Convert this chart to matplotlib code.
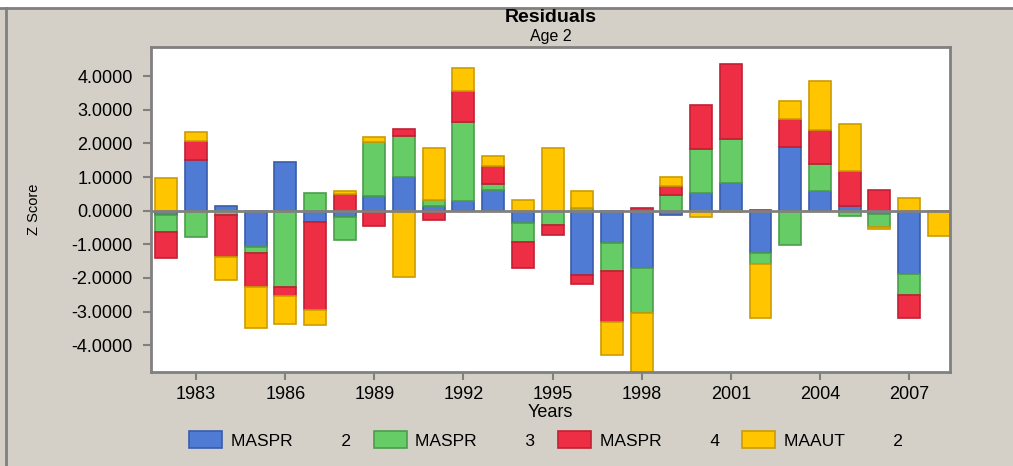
import numpy as np
import matplotlib.pyplot as plt
from matplotlib.lines import Line2D
from matplotlib.patches import Rectangle

plt.rcParams['font.family'] = ['Liberation Sans', 'DejaVu Sans']

# years and residuals per series
years = np.arange(1982, 2009)
maspr2 = [-0.12, 1.51, 0.14, -1.07, 1.45, -0.33, -0.18, 0.43, 0.99, 0.13, 0.29, 0.63, -0.36, 0.00,
          -1.91, -0.97, -1.72, -0.12, 0.53, 0.83, -1.27, 1.90, 0.59, 0.13, -0.10, -1.88, 0.00]
maspr3 = [-0.52, -0.78, -0.12, -0.20, -2.28, 0.54, -0.69, 1.62, 1.22, 0.20, 2.36, 0.15, -0.58, -0.43,
          0.09, -0.83, -1.31, 0.46, 1.30, 1.30, -0.31, -1.01, 0.81, -0.17, -0.38, -0.64, 0.00]
maspr4 = [-0.78, 0.56, -1.25, -1.01, -0.27, -2.63, 0.50, -0.45, 0.22, -0.28, 0.90, 0.56, -0.76, -0.28,
          -0.28, -1.52, 0.08, 0.27, 1.30, 2.24, 0.03, 0.84, 1.01, 1.04, 0.62, -0.66, 0.00]
maaut2 = [0.97, 0.26, -0.68, -1.21, -0.82, -0.45, 0.08, 0.15, -1.98, 1.53, 0.69, 0.29, 0.31, 1.86,
          0.49, -0.98, -1.90, 0.26, -0.20, -0.04, -1.62, 0.52, 1.46, 1.42, -0.07, 0.38, -0.74]

series = [maspr2, maspr3, maspr4, maaut2]
labels = ['MASPR          2', 'MASPR          3', 'MASPR          4', 'MAAUT          2']
colors = ['#4f7bd4', '#66cc66', '#ee2e44', '#ffc600']
edges = ['#3a5caa', '#4b9e4b', '#c21f33', '#cc9c00']

bg = '#d4d0c8'
fig = plt.figure(figsize=(10.13, 4.66), dpi=100, facecolor=bg)
# white strip at top and frame lines
fig.patches.append(Rectangle((0, 1 - 8/466), 1, 8/466, transform=fig.transFigure,
                             facecolor='white', edgecolor='none', zorder=0))
fig.lines.append(Line2D([0, 1], [1 - 8/466, 1 - 8/466], transform=fig.transFigure, color='#808080', lw=2))
fig.lines.append(Line2D([6/1013, 6/1013], [0, 1 - 8/466], transform=fig.transFigure, color='#808080', lw=2))

ax = fig.add_axes([151/1013, 94/466, 799/1013, 325/466])
ax.set_facecolor('white')

pos = np.zeros(len(years))
neg = np.zeros(len(years))
for vals, c, e, lab in zip(series, colors, edges, labels):
    v = np.array(vals)
    bottom = np.where(v >= 0, pos, neg)
    ax.bar(years, v, bottom=bottom, width=0.74, color=c, edgecolor=e, linewidth=1.2, label=lab, zorder=2)
    pos = pos + np.where(v > 0, v, 0)
    neg = neg + np.where(v < 0, v, 0)

ax.axhline(0, color='#808080', lw=2, zorder=3)
ax.set_xlim(1981.48, 2008.38)
ax.set_ylim(-4.8, 4.87)
ax.set_xticks(np.arange(1983, 2008, 3))
ax.set_yticks(np.arange(-4, 5, 1))
ax.set_yticklabels(['%.4f' % t for t in np.arange(-4, 5, 1)])
for s in ax.spines.values():
    s.set_color('#808080')
    s.set_linewidth(2)
ax.tick_params(colors='#808080', labelcolor='black', length=6, width=1.5, labelsize=13)
ax.tick_params(axis='y', pad=7)
ax.tick_params(axis='x', pad=4)

ax.set_ylabel('Z Score', fontsize=10.5, labelpad=22)
ax.set_xlabel('Years', fontsize=13, labelpad=1)
fig.text(551/1013, 1 - 18/466, 'Residuals', ha='center', va='center', fontsize=14, fontweight='bold')
fig.text(551/1013, 1 - 37/466, 'Age 2', ha='center', va='center', fontsize=11.5)

fig.legend(loc='center', bbox_to_anchor=(546/1013, 26/466), ncol=4, frameon=False, fontsize=12.5,
           handlelength=1.9, handleheight=1.1, columnspacing=1.3, handletextpad=0.5)

plt.savefig('out.png', dpi=100, facecolor=bg)
